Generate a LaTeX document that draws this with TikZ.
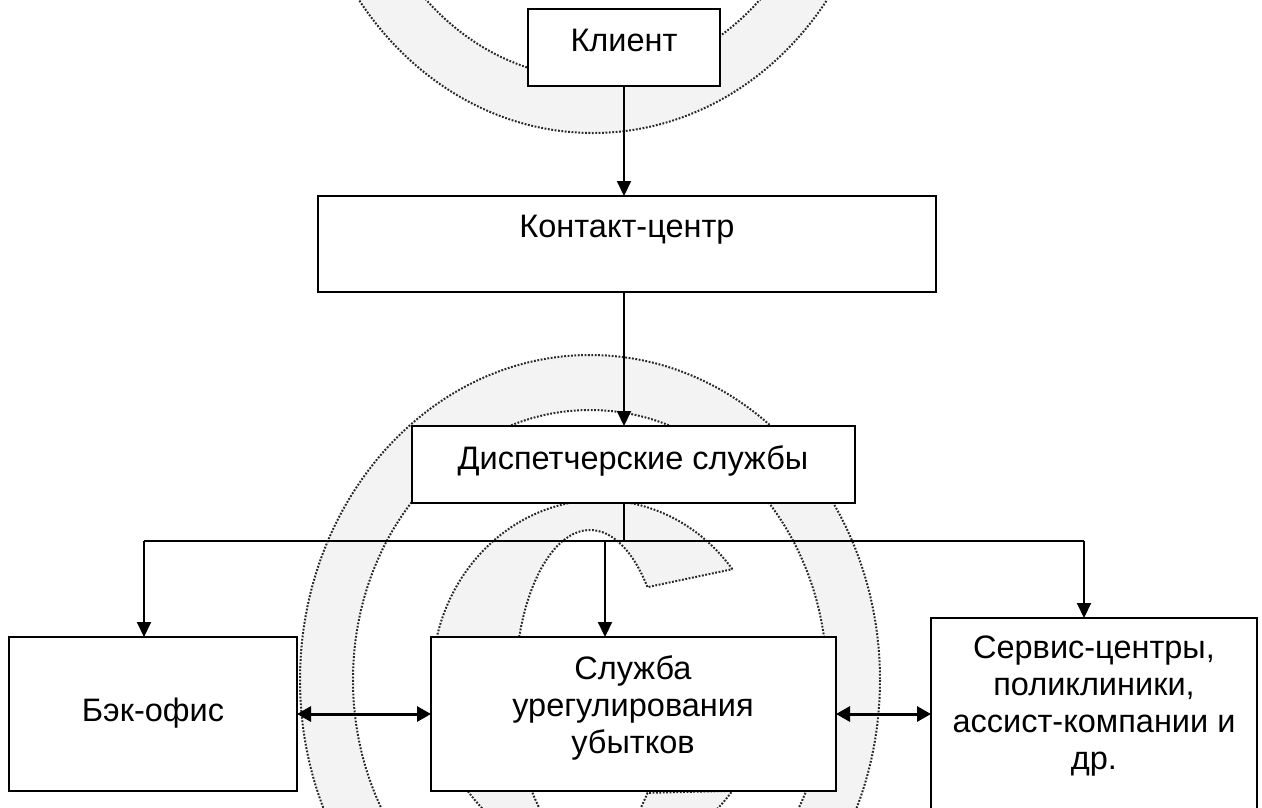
\documentclass[tikz,border=0pt]{standalone}
\usepackage{fontspec}
\setmainfont{Liberation Sans}
\usetikzlibrary{arrows.meta}
\definecolor{wmband}{RGB}{243,243,243}
\definecolor{wmedge}{RGB}{40,40,40}
\tikzset{
  box/.style={draw=black, fill=white, line width=2pt, inner sep=0pt, outer sep=0pt, anchor=north west},
  lbl/.style={inner sep=0pt, anchor=base, font=\fontsize{32.5}{37}\selectfont},
  conn/.style={line width=2pt, -{Triangle[length=15pt,width=14pt]}},
  plainconn/.style={line width=2pt},
  dbl/.style={line width=3pt, {Triangle[length=14pt,width=15pt]}-{Triangle[length=14pt,width=15pt]}},
  wmfill/.style={fill=wmband},
  wmline/.style={draw=wmedge, line width=2pt, dash pattern=on 1.8pt off 1.6pt},
}
\newcommand\drawwm[1]{%
  \begin{scope}[shift={#1}]
    \path[wmfill, even odd rule] (0,0) ellipse[x radius=290, y radius=325]
                                 (0,0) ellipse[x radius=237, y radius=270];
    \path[wmline] (0,0) ellipse[x radius=290, y radius=325];
    \path[wmline] (0,0) ellipse[x radius=237, y radius=270];
    \path[wmfill, wmline] (10,0) ++(-38:168 and 180)
      arc[start angle=-38, end angle=-322, x radius=168, y radius=180]
      -- ([shift={(0,10)}]-320:75 and 160)
      arc[start angle=-320, end angle=-40, x radius=75, y radius=160]
      -- cycle;
  \end{scope}}
\begin{document}
\begin{tikzpicture}[x=1pt, y=-1pt]
  \useasboundingbox (0,0) rectangle (1262,807);
  \clip (0,0) rectangle (1262,807);
  % watermark
  \drawwm{(593,-192)}
  \drawwm{(590,680)}
  % boxes
  \node[box, minimum width=192pt, minimum height=77pt]  (klient)  at (528,9)   {};
  \node[box, minimum width=618pt, minimum height=96pt]  (kontakt) at (318,196) {};
  \node[box, minimum width=443pt, minimum height=77pt]  (disp)    at (412,426) {};
  \node[box, minimum width=288pt, minimum height=154pt] (bek)     at (9,637)   {};
  \node[box, minimum width=405pt, minimum height=154pt] (sluzhba) at (431,637) {};
  \node[box, minimum width=326pt, minimum height=220pt] (servis)  at (931,618) {};
  % texts (multi-line nodes: base = baseline of last line)
  \node[lbl] (tklient)  at (624,51)  {Клиент};
  \node[lbl] (tkontakt) at (627,237) {Контакт-центр};
  \node[lbl] (tdisp)    at (633,469) {Диспетчерские службы};
  \node[lbl] (tbek)     at (153,721) {Бэк-офис};
  \node[lbl, align=center] (tsluzhba) at (633,753) {Служба\\урегулирования\\убытков};
  \node[lbl, align=center] (tservis)  at (1094,769) {Сервис-центры,\\поликлиники,\\ассист-компании и\\др.};
  % connectors
  \coordinate (j)  at (624,541);
  \coordinate (hl) at (144,541);
  \coordinate (hm) at (605,541);
  \coordinate (hr) at (1084,541);
  \draw[conn] (klient.south) -- (klient.south |- kontakt.north);
  \draw[conn] (klient.south |- kontakt.south) -- (klient.south |- disp.north);
  \draw[plainconn] (klient.south |- disp.south) -- (j);
  \draw[plainconn] (hl) -- (hr);
  \draw[conn] (hl) -- (hl |- bek.north);
  \draw[conn] (hm) -- (hm |- sluzhba.north);
  \draw[conn] (hr) -- (hr |- servis.north);
  \draw[dbl] (bek.east) -- (sluzhba.west);
  \draw[dbl] (sluzhba.east) -- (sluzhba.east -| servis.west);
\end{tikzpicture}
\end{document}
